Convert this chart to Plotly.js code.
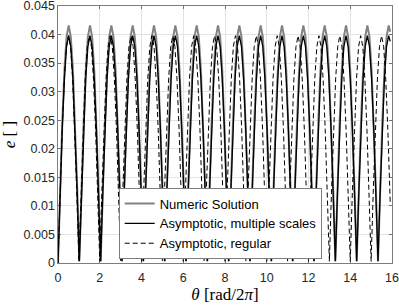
<!DOCTYPE html>
<html>
<head>
<meta charset="utf-8">
<script src="https://cdn.plot.ly/plotly-3.0.1.min.js"></script>
<style>html,body{margin:0;padding:0;background:#fff;}#chart{width:399px;height:305px;}</style>
</head>
<body>
<div id="chart"></div>
<script>
// theta samples [rad/2pi] for the numeric and multiple-scales curves
const thetaA = [
0, 0.102, 0.204, 0.307, 0.409, 0.511, 0.613, 0.715, 0.818, 0.920,
1.022, 1.124, 1.226, 1.329, 1.431, 1.533, 1.635, 1.737, 1.840, 1.942,
2.044, 2.146, 2.248, 2.351, 2.453, 2.555, 2.657, 2.759, 2.862, 2.964,
3.066, 3.168, 3.270, 3.373, 3.475, 3.577, 3.679, 3.781, 3.884, 3.986,
4.088, 4.190, 4.292, 4.395, 4.497, 4.599, 4.701, 4.803, 4.906, 5.008,
5.110, 5.212, 5.314, 5.417, 5.519, 5.621, 5.723, 5.825, 5.928, 6.030,
6.132, 6.234, 6.336, 6.439, 6.541, 6.643, 6.745, 6.847, 6.950, 7.052,
7.154, 7.256, 7.358, 7.461, 7.563, 7.665, 7.767, 7.869, 7.972, 8.074,
8.176, 8.278, 8.380, 8.483, 8.585, 8.687, 8.789, 8.891, 8.994, 9.096,
9.198, 9.300, 9.402, 9.505, 9.607, 9.709, 9.811, 9.913, 10.016, 10.118,
10.220, 10.322, 10.424, 10.527, 10.629, 10.731, 10.833, 10.935, 11.038, 11.140,
11.242, 11.344, 11.446, 11.549, 11.651, 11.753, 11.855, 11.957, 12.060, 12.162,
12.264, 12.366, 12.468, 12.571, 12.673, 12.775, 12.877, 12.979, 13.082, 13.184,
13.286, 13.388, 13.490, 13.593, 13.695, 13.797, 13.899, 14.001, 14.104, 14.206,
14.308, 14.410, 14.512, 14.615, 14.717, 14.819, 14.921, 15.023, 15.126, 15.228,
15.330, 15.432, 15.534, 15.637, 15.739, 15.841, 15.915
];

// Numeric Solution
const eNumeric = [
0, 0.0129, 0.0245, 0.0337, 0.0396, 0.0416, 0.0396, 0.0337, 0.0245, 0.0129,
0.0003, 0.0129, 0.0245, 0.0337, 0.0396, 0.0416, 0.0396, 0.0337, 0.0245, 0.0129,
0.0003, 0.0129, 0.0245, 0.0337, 0.0396, 0.0416, 0.0396, 0.0337, 0.0245, 0.0129,
0.0003, 0.0129, 0.0245, 0.0337, 0.0396, 0.0416, 0.0396, 0.0337, 0.0245, 0.0129,
0.0003, 0.0129, 0.0245, 0.0337, 0.0396, 0.0416, 0.0396, 0.0337, 0.0245, 0.0129,
0.0003, 0.0129, 0.0245, 0.0337, 0.0396, 0.0416, 0.0396, 0.0337, 0.0245, 0.0129,
0.0003, 0.0129, 0.0245, 0.0337, 0.0396, 0.0416, 0.0396, 0.0337, 0.0245, 0.0129,
0.0003, 0.0129, 0.0245, 0.0337, 0.0396, 0.0416, 0.0396, 0.0337, 0.0245, 0.0129,
0.0003, 0.0129, 0.0245, 0.0337, 0.0396, 0.0416, 0.0396, 0.0337, 0.0245, 0.0129,
0.0003, 0.0129, 0.0245, 0.0337, 0.0396, 0.0416, 0.0396, 0.0337, 0.0245, 0.0129,
0.0003, 0.0129, 0.0245, 0.0337, 0.0396, 0.0416, 0.0396, 0.0337, 0.0245, 0.0129,
0.0003, 0.0129, 0.0245, 0.0337, 0.0396, 0.0416, 0.0396, 0.0337, 0.0245, 0.0129,
0.0003, 0.0129, 0.0245, 0.0337, 0.0396, 0.0416, 0.0396, 0.0337, 0.0245, 0.0129,
0.0003, 0.0129, 0.0245, 0.0337, 0.0396, 0.0416, 0.0396, 0.0337, 0.0245, 0.0129,
0.0003, 0.0129, 0.0245, 0.0337, 0.0396, 0.0416, 0.0396, 0.0337, 0.0245, 0.0129,
0.0003, 0.0129, 0.0245, 0.0337, 0.0396, 0.0416, 0.0405
];

// Asymptotic, multiple scales
const eMultiple = [
0, 0.0123, 0.0234, 0.0322, 0.0379, 0.0398, 0.0379, 0.0322, 0.0234, 0.0123,
0.0003, 0.0123, 0.0234, 0.0322, 0.0379, 0.0398, 0.0379, 0.0322, 0.0234, 0.0123,
0.0003, 0.0123, 0.0234, 0.0322, 0.0379, 0.0398, 0.0379, 0.0322, 0.0234, 0.0123,
0.0003, 0.0123, 0.0234, 0.0322, 0.0379, 0.0398, 0.0379, 0.0322, 0.0234, 0.0123,
0.0003, 0.0123, 0.0234, 0.0322, 0.0379, 0.0398, 0.0379, 0.0322, 0.0234, 0.0123,
0.0003, 0.0123, 0.0234, 0.0322, 0.0379, 0.0398, 0.0379, 0.0322, 0.0234, 0.0123,
0.0003, 0.0123, 0.0234, 0.0322, 0.0379, 0.0398, 0.0379, 0.0322, 0.0234, 0.0123,
0.0003, 0.0123, 0.0234, 0.0322, 0.0379, 0.0398, 0.0379, 0.0322, 0.0234, 0.0123,
0.0003, 0.0123, 0.0234, 0.0322, 0.0379, 0.0398, 0.0379, 0.0322, 0.0234, 0.0123,
0.0003, 0.0123, 0.0234, 0.0322, 0.0379, 0.0398, 0.0379, 0.0322, 0.0234, 0.0123,
0.0003, 0.0123, 0.0234, 0.0322, 0.0379, 0.0398, 0.0379, 0.0322, 0.0234, 0.0123,
0.0003, 0.0123, 0.0234, 0.0322, 0.0379, 0.0398, 0.0379, 0.0322, 0.0234, 0.0123,
0.0003, 0.0123, 0.0234, 0.0322, 0.0379, 0.0398, 0.0379, 0.0322, 0.0234, 0.0123,
0.0003, 0.0123, 0.0234, 0.0322, 0.0379, 0.0398, 0.0379, 0.0322, 0.0234, 0.0123,
0.0003, 0.0123, 0.0234, 0.0322, 0.0379, 0.0398, 0.0379, 0.0322, 0.0234, 0.0123,
0.0003, 0.0123, 0.0234, 0.0322, 0.0379, 0.0398, 0.0388
];

// theta samples for the regular asymptotic curve
const thetaR = [
0, 0.1, 0.2, 0.3, 0.4, 0.5, 0.6, 0.7, 0.8, 0.9,
1.0, 1.1, 1.2, 1.3, 1.4, 1.5, 1.6, 1.7, 1.8, 1.9,
2.0, 2.1, 2.2, 2.3, 2.4, 2.5, 2.6, 2.7, 2.8, 2.9,
3.0, 3.1, 3.2, 3.3, 3.4, 3.5, 3.6, 3.7, 3.8, 3.9,
4.0, 4.1, 4.2, 4.3, 4.4, 4.5, 4.6, 4.7, 4.8, 4.9,
5.0, 5.1, 5.2, 5.3, 5.4, 5.5, 5.6, 5.7, 5.8, 5.9,
6.0, 6.1, 6.2, 6.3, 6.4, 6.5, 6.6, 6.7, 6.8, 6.9,
7.0, 7.1, 7.2, 7.3, 7.4, 7.5, 7.6, 7.7, 7.8, 7.9,
8.0, 8.1, 8.2, 8.3, 8.4, 8.5, 8.6, 8.7, 8.8, 8.9,
9.0, 9.1, 9.2, 9.3, 9.4, 9.5, 9.6, 9.7, 9.8, 9.9,
10.0, 10.1, 10.2, 10.3, 10.4, 10.5, 10.6, 10.7, 10.8, 10.9,
11.0, 11.1, 11.2, 11.3, 11.4, 11.5, 11.6, 11.7, 11.8, 11.9,
12.0, 12.1, 12.2, 12.3, 12.4, 12.5, 12.6, 12.7, 12.8, 12.9,
13.0, 13.1, 13.2, 13.3, 13.4, 13.5, 13.6, 13.7, 13.8, 13.9,
14.0, 14.1, 14.2, 14.3, 14.4, 14.5, 14.6, 14.7, 14.8, 14.9,
15.0, 15.1, 15.2, 15.3, 15.4, 15.5, 15.6, 15.7, 15.8, 15.9,
15.915
];

// Asymptotic, regular
const eRegular = [
0, 0.0123, 0.0234, 0.0322, 0.0379, 0.0398, 0.0379, 0.0322, 0.0234, 0.0123,
0.0003, 0.0123, 0.0234, 0.0322, 0.0379, 0.0398, 0.0379, 0.0322, 0.0234, 0.0123,
0.0003, 0.0123, 0.0234, 0.0322, 0.0379, 0.0398, 0.0379, 0.0322, 0.0234, 0.0123,
0.0003, 0.0123, 0.0234, 0.0322, 0.0379, 0.0398, 0.0379, 0.0322, 0.0234, 0.0123,
0.0003, 0.0123, 0.0234, 0.0322, 0.0379, 0.0398, 0.0379, 0.0322, 0.0234, 0.0123,
0.0003, 0.0123, 0.0234, 0.0322, 0.0379, 0.0398, 0.0379, 0.0322, 0.0234, 0.0123,
0.0003, 0.0123, 0.0234, 0.0322, 0.0379, 0.0398, 0.0379, 0.0322, 0.0234, 0.0123,
0.0003, 0.0123, 0.0234, 0.0322, 0.0379, 0.0398, 0.0379, 0.0322, 0.0234, 0.0123,
0.0003, 0.0123, 0.0234, 0.0322, 0.0379, 0.0398, 0.0379, 0.0322, 0.0234, 0.0123,
0.0003, 0.0123, 0.0234, 0.0322, 0.0379, 0.0398, 0.0379, 0.0322, 0.0234, 0.0123,
0.0003, 0.0123, 0.0234, 0.0322, 0.0379, 0.0398, 0.0379, 0.0322, 0.0234, 0.0123,
0.0003, 0.0123, 0.0234, 0.0322, 0.0379, 0.0398, 0.0379, 0.0322, 0.0234, 0.0123,
0.0003, 0.0123, 0.0234, 0.0322, 0.0379, 0.0398, 0.0379, 0.0322, 0.0234, 0.0123,
0.0003, 0.0123, 0.0234, 0.0322, 0.0379, 0.0398, 0.0379, 0.0322, 0.0234, 0.0123,
0.0003, 0.0123, 0.0234, 0.0322, 0.0379, 0.0398, 0.0379, 0.0322, 0.0234, 0.0123,
0.0003, 0.0123, 0.0234, 0.0322, 0.0379, 0.0398, 0.0379, 0.0322, 0.0234, 0.0123,
0.0105
];

// tick values and labels
const xTickVals = [0, 2, 4, 6, 8, 10, 12, 14, 16];
const yTickVals = [0, 0.005, 0.01, 0.015, 0.02, 0.025, 0.03, 0.035, 0.04, 0.045];
const yTickText = ['0', '0.005', '0.01', '0.015', '0.02', '0.025', '0.03', '0.035', '0.04', '0.045'];

const seriesNames = ['Numeric Solution', 'Asymptotic, multiple scales', 'Asymptotic, regular'];
const xTitle = '<i>θ</i> [rad/2<i>π</i>]';
const yTitle = '<i>e</i> [ ]';

const axisColor = '#262626';
const gridColor = '#e3e3e3';

const traces = [
  {x: thetaA, y: eNumeric, name: seriesNames[0], type: 'scatter', mode: 'lines',
   line: {color: '#828282', width: 2}},
  {x: thetaA, y: eMultiple, name: seriesNames[1], type: 'scatter', mode: 'lines',
   line: {color: '#000000', width: 1.3}},
  {x: thetaR, y: eRegular, name: seriesNames[2], type: 'scatter', mode: 'lines',
   line: {color: '#000000', width: 1, dash: '5px,3px'}}
];

const layout = {
  width: 399, height: 305,
  margin: {l: 58, r: 7, t: 6, b: 42, pad: 0},
  paper_bgcolor: '#ffffff', plot_bgcolor: '#ffffff',
  font: {family: 'Liberation Sans, Arial, sans-serif', size: 12.5, color: axisColor},
  showlegend: true,
  legend: {
    x: 0.183, y: 0.016, xanchor: 'left', yanchor: 'bottom',
    bgcolor: '#ffffff', bordercolor: axisColor, borderwidth: 0.6,
    font: {size: 13, color: '#000000'}, itemwidth: 30, tracegroupgap: 0
  },
  xaxis: {
    range: [0, 16], tickmode: 'array', tickvals: xTickVals,
    ticks: 'inside', ticklen: 3, tickwidth: 0.6, tickcolor: axisColor,
    ticklabeloverflow: 'allow', ticklabelstandoff: 3,
    showline: true, linecolor: axisColor, linewidth: 0.6, mirror: 'ticks',
    showgrid: true, gridcolor: gridColor, gridwidth: 1, zeroline: false,
    title: {text: xTitle, font: {family: 'Liberation Serif, DejaVu Serif, serif', size: 17, color: '#000000'}, standoff: 3}
  },
  yaxis: {
    range: [0, 0.045], tickmode: 'array', tickvals: yTickVals, ticktext: yTickText,
    ticks: 'inside', ticklen: 3, tickwidth: 0.6, tickcolor: axisColor,
    ticklabeloverflow: 'allow',
    showline: true, linecolor: axisColor, linewidth: 0.6, mirror: 'ticks',
    showgrid: true, gridcolor: gridColor, gridwidth: 1, zeroline: false,
    title: {text: yTitle, font: {family: 'Liberation Serif, DejaVu Serif, serif', size: 17, color: '#000000'}, standoff: 6}
  }
};

Plotly.newPlot('chart', traces, layout, {displayModeBar: false, staticPlot: true});
</script>
</body>
</html>
